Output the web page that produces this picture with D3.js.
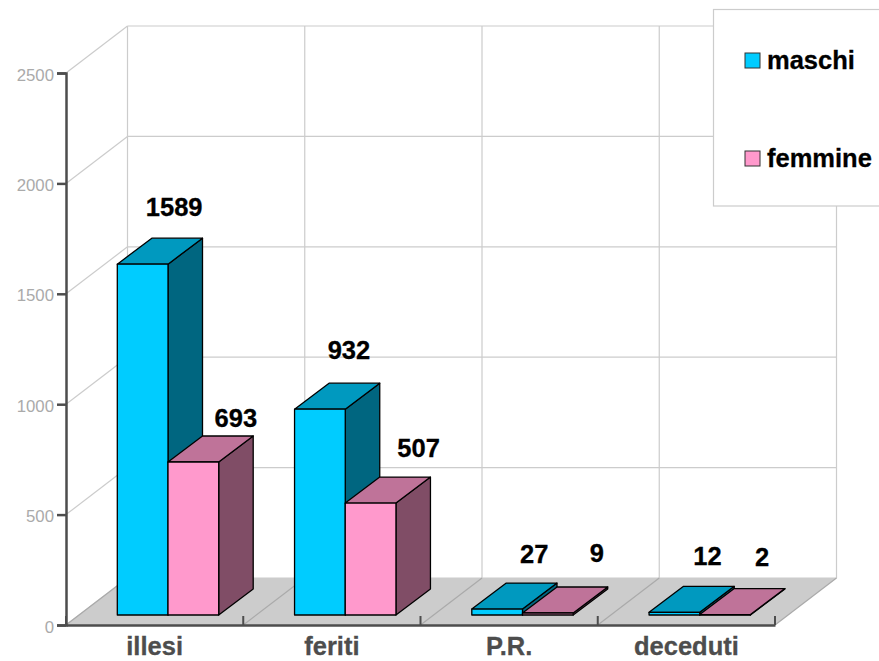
<!DOCTYPE html>
<html>
<head>
<meta charset="utf-8">
<script src="https://cdn.jsdelivr.net/npm/d3@7"></script>
<style>
  html, body { margin: 0; padding: 0; background: #fff; overflow: hidden; }
  svg { display: block; }
  text { font-family: "Liberation Sans", Arial, sans-serif; }
  .vlabel, .ltext { font-size: 25.5px; font-weight: bold; fill: #000; stroke: #000; stroke-width: 0.3; }
  .xaxis text { font-size: 25.5px; font-weight: bold; fill: #4d4d4d; stroke: #4d4d4d; stroke-width: 0.3; }
  .yaxis text { font-size: 16.8px; fill: #aaa; }
  .grid { stroke: #ccc; stroke-width: 1.2; fill: none; }
</style>
</head>
<body>
<svg id="chart" width="879" height="661"></svg>
<script>
var categories = ["illesi", "feriti", "P.R.", "deceduti"];
var seriesNames = ["maschi", "femmine"];
var maschi = [1589, 932, 27, 12];
var femmine = [693, 507, 9, 2];
var yTicks = [0, 500, 1000, 1500, 2000, 2500];

// hand placed value labels in the original, dx/dy from the bar's front top centre
var maschiNudge = [[31.5, -48], [29, -50], [37, -46], [33, -47]];
var femmineNudge = [[42.5, -35], [48, -46], [49, -51], [37, -49]];

var w = 879, h = 661;
var x0 = 66, x1 = 775, y0 = 625, yTop = 73;
var wallDx = 61.5, wallDy = -47;        // depth of floor and walls
var barDx = 34.5, barDy = -26;          // depth of a bar
var barLift = 10, barShift = 51.3, barW = 50.7;

var colors = {
  maschi: {front: "#00ccff", top: "#0099bf", side: "#006680"},
  femmine: {front: "#ff99cc", top: "#bf7399", side: "#804d66"}
};

var svg = d3.select("#chart");

var xScale = d3.scaleBand().domain(categories).range([x0, x1]);
var yScale = d3.scaleLinear().domain([0, 2500]).range([y0, yTop]);

var line = d3.line();
function poly(pts) { return line(pts) + "Z"; }

// floor
svg.append("path")
   .attr("d", poly([[x0, y0], [x1, y0], [x1 + wallDx, y0 + wallDy], [x0 + wallDx, y0 + wallDy]]))
   .attr("fill", "#ccc");

// gridlines on back and side wall
yTicks.forEach(function(t) {
  var y = yScale(t);
  svg.append("line").attr("class", "grid")
     .attr("x1", x0 + wallDx).attr("x2", x1 + wallDx)
     .attr("y1", y + wallDy).attr("y2", y + wallDy);
  svg.append("line").attr("class", "grid")
     .attr("x1", x0).attr("x2", x0 + wallDx)
     .attr("y1", y).attr("y2", y + wallDy);
});

var edges = categories.map(function(c) { return xScale(c); }).concat([x1]);
edges.forEach(function(e) {
  svg.append("line").attr("class", "grid")
     .attr("x1", e + wallDx).attr("x2", e + wallDx)
     .attr("y1", yScale(2500) + wallDy).attr("y2", y0 + wallDy);
  svg.append("line")
     .attr("class", "grid")
     .attr("stroke-width", 1)
     .attr("x1", e).attr("x2", e + wallDx)
     .attr("y1", y0).attr("y2", y0 + wallDy)
     .style("stroke", "#aaa");
});

// bars, maschi first so femmine covers its side face
function drawBar(cat, value, idx, col) {
  var left = xScale(cat) + barShift + idx * barW;
  var right = left + barW;
  var base = y0 - barLift;
  var top = base - (y0 - yScale(value));
  var g = svg.append("g").attr("stroke", "#000").attr("stroke-width", 1.3).attr("stroke-linejoin", "round");
  g.append("path").attr("fill", col.side)
   .attr("d", poly([[right, base], [right + barDx, base + barDy], [right + barDx, top + barDy], [right, top]]));
  g.append("path").attr("fill", col.top)
   .attr("d", poly([[left, top], [right, top], [right + barDx, top + barDy], [left + barDx, top + barDy]]));
  g.append("path").attr("fill", col.front)
   .attr("d", poly([[left, base], [right, base], [right, top], [left, top]]));
}

categories.forEach(function(c, i) {
  drawBar(c, maschi[i], 0, colors.maschi);
  drawBar(c, femmine[i], 1, colors.femmine);
});

// value labels
function drawLabels(values, nudge, idx) {
  values.forEach(function(v, i) {
    var cx = xScale(categories[i]) + barShift + idx * barW + barW / 2;
    var top = y0 - barLift - (y0 - yScale(v));
    svg.append("text").attr("class", "vlabel")
       .attr("text-anchor", "middle")
       .attr("x", cx + nudge[i][0])
       .attr("y", top + nudge[i][1])
       .text(v);
  });
}
drawLabels(maschi, maschiNudge, 0);
drawLabels(femmine, femmineNudge, 1);

// axes
var yAxis = d3.axisLeft(yScale).tickValues(yTicks).tickSize(9).tickPadding(3).tickFormat(d3.format("d"));
var yG = svg.append("g").attr("class", "yaxis")
   .attr("transform", "translate(" + x0 + ",0)")
   .call(yAxis);
yG.select(".domain").attr("stroke", "#4d4d4d").attr("stroke-width", 2.5);
yG.selectAll(".tick line").attr("stroke", "#4d4d4d").attr("stroke-width", 2.5);
yG.selectAll(".tick text").attr("dy", "0.42em");

var xAxis = d3.axisBottom(xScale).tickSize(0).tickPadding(12).tickSizeOuter(0);
var xG = svg.append("g").attr("class", "xaxis")
   .attr("transform", "translate(0," + y0 + ")")
   .call(xAxis);
xG.select(".domain").attr("stroke", "#4d4d4d").attr("stroke-width", 2.5);

edges.forEach(function(e) {
  svg.append("line")
     .attr("x1", e).attr("x2", e)
     .attr("y1", y0).attr("y2", y0 - 9)
     .attr("stroke", "#4d4d4d").attr("stroke-width", 2);
});

// legend, runs off the right edge like the original
svg.append("rect")
   .attr("x", 713.5).attr("y", 9.5)
   .attr("width", 200).attr("height", 196.5)
   .attr("fill", "#fff").attr("stroke", "#ccc").attr("stroke-width", 1.2);

var legendY = d3.scalePoint().domain(seriesNames).range([60.5, 158.5]);
seriesNames.forEach(function(s) {
  svg.append("rect")
     .attr("x", 745).attr("y", legendY(s) - 7.5)
     .attr("width", 15).attr("height", 15)
     .attr("fill", colors[s].front)
     .attr("stroke", "#333").attr("stroke-width", 1);
  svg.append("text").attr("class", "ltext")
     .attr("x", 767).attr("y", legendY(s) + 8.5)
     .text(s);
});
</script>
</body>
</html>
